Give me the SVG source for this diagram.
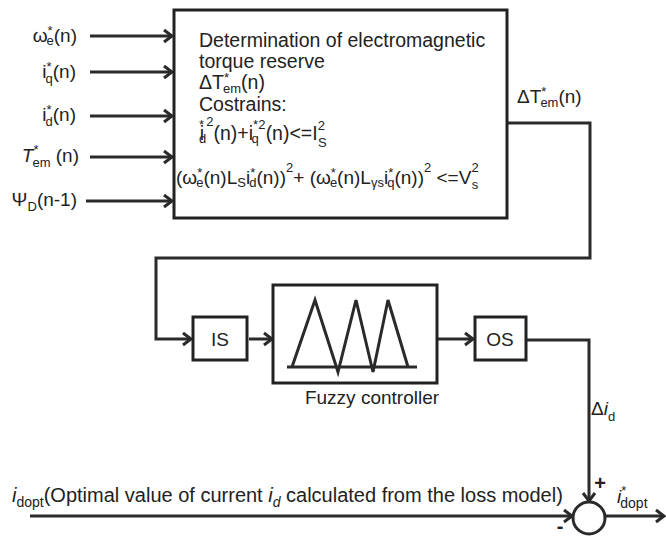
<svg xmlns="http://www.w3.org/2000/svg" width="666" height="536" viewBox="0 0 666 536">
<defs>
<style>
text{font-family:"Liberation Sans",Arial,sans-serif;fill:#222;font-size:19px}
.box{fill:#fff;stroke:#222;stroke-width:3}
.ln{fill:none;stroke:#2a2a2a;stroke-width:3}
.sm{font-size:13px}
.big{font-size:19.5px}
.lbl{font-size:20px}
.sub{font-size:14px}
.sign{font-size:20px;font-weight:bold}
</style>
<marker id="ah" markerUnits="userSpaceOnUse" markerWidth="14" markerHeight="16" viewBox="-10 -8 12 16" refX="0" refY="0" orient="auto">
<path d="M-8,-6 L0,0 L-8,6" fill="none" stroke="#2a2a2a" stroke-width="3"/>
</marker>
</defs>
<rect width="666" height="536" fill="#fff"/>
<g id="connectors">
<path class="ln" d="M90,36 H172" marker-end="url(#ah)"/>
<path class="ln" d="M90,72 H172" marker-end="url(#ah)"/>
<path class="ln" d="M90,116 H172" marker-end="url(#ah)"/>
<path class="ln" d="M90,157 H172" marker-end="url(#ah)"/>
<path class="ln" d="M86,201 H172" marker-end="url(#ah)"/>
<path class="ln" d="M507,123 H590 V258 H156 V339 H191" marker-end="url(#ah)"/>
<path class="ln" d="M249,339 H272" marker-end="url(#ah)"/>
<path class="ln" d="M437,339 H473" marker-end="url(#ah)"/>
<path class="ln" d="M526,340 H589 V501" marker-end="url(#ah)"/>
<path class="ln" d="M30,516 H572" marker-end="url(#ah)"/>
<path class="ln" d="M606,516 H664" marker-end="url(#ah)"/>
</g>
<g id="inputs">
<text x="77" y="42" text-anchor="end">ω<tspan class="sm" dy="-7">*</tspan><tspan class="sm" dx="-6" dy="10">e</tspan><tspan dy="-3">(n)</tspan></text>
<text x="76" y="78" text-anchor="end">i<tspan class="sm" dy="-7">*</tspan><tspan class="sm" dx="-6" dy="12">q</tspan><tspan dy="-5">(n)</tspan></text>
<text x="76" y="121" text-anchor="end">i<tspan class="sm" dy="-7">*</tspan><tspan class="sm" dx="-6" dy="12">d</tspan><tspan dy="-5">(n)</tspan></text>
<text x="79" y="162" text-anchor="end"><tspan font-style="italic">T</tspan><tspan class="sm" dy="-8">*</tspan><tspan class="sm" dx="-6" dy="13">em</tspan><tspan dy="-5"> (n)</tspan></text>
<text x="77" y="206" text-anchor="end">Ψ<tspan class="sm" dy="5">D</tspan><tspan dy="-5">(n-1)</tspan></text>
</g>
<g id="reserve">
<rect class="box" x="174" y="10" width="333" height="208"/>
<text class="big" x="199" y="47">Determination of electromagnetic</text>
<text class="big" x="199" y="68">torque reserve</text>
<text class="big" x="199" y="89">ΔT<tspan class="sm" dy="-7">*</tspan><tspan class="sm" dx="-6" dy="11">em</tspan><tspan dy="-4">(n)</tspan></text>
<text class="big" x="199" y="111">Costrains:</text>
<text class="big" x="199" y="140">i<tspan class="sm" dx="-5" dy="-11">*</tspan><tspan class="sm" dx="-5" dy="14">d</tspan><tspan class="sm" dy="-17">2</tspan><tspan dy="14">(n)+i</tspan><tspan class="sm" dy="-11">*2</tspan><tspan class="sm" dx="-14" dy="14">q</tspan><tspan dx="7" dy="-3">(n)&lt;=I</tspan><tspan class="sm" dy="-10">2</tspan><tspan class="sm" dx="-7" dy="17">S</tspan></text>
<text x="176" y="184">(ω<tspan class="sm" dy="-7">*</tspan><tspan class="sm" dx="-6" dy="10">e</tspan><tspan dy="-3">(n)L</tspan><tspan class="sm" dy="3">S</tspan><tspan dy="-3">i</tspan><tspan class="sm" dy="-7">*</tspan><tspan class="sm" dx="-6" dy="10">d</tspan><tspan dy="-3">(n))</tspan><tspan class="sm" dy="-12">2</tspan><tspan dy="12">+ (ω</tspan><tspan class="sm" dy="-7">*</tspan><tspan class="sm" dx="-6" dy="10">e</tspan><tspan dy="-3">(n)L</tspan><tspan class="sm" dy="3">γs</tspan><tspan dy="-3">i</tspan><tspan class="sm" dy="-7">*</tspan><tspan class="sm" dx="-6" dy="10">q</tspan><tspan dy="-3">(n))</tspan><tspan class="sm" dy="-12">2</tspan><tspan dy="12"> &lt;=V</tspan><tspan class="sm" dy="-12">2</tspan><tspan class="sm" dx="-7" dy="17">s</tspan></text>
</g>
<g id="out-label">
<text x="517" y="103">ΔT<tspan class="sm" dy="-7">*</tspan><tspan class="sm" dx="-6" dy="11">em</tspan><tspan dy="-4">(n)</tspan></text>
</g>
<g id="IS">
<rect class="box" x="193" y="317" width="54" height="43"/>
<text x="220" y="346" text-anchor="middle">IS</text>
</g>
<g id="fuzzy">
<rect class="box" x="273" y="285" width="164" height="98"/>
<path class="ln" d="M287,367 H417 M292,367 L315,300 L338,372 L356,300 L373,372 L388,300 L408,367"/>
<text x="372" y="404" text-anchor="middle">Fuzzy controller</text>
</g>
<g id="OS">
<rect class="box" x="475" y="317" width="51" height="43"/>
<text x="500" y="346" text-anchor="middle">OS</text>
</g>
<g id="delta-id">
<text x="591" y="415">Δ<tspan font-style="italic">i</tspan><tspan class="sm" dy="6">d</tspan></text>
</g>
<g id="sum">
<circle cx="589" cy="518" r="16" fill="#fff" stroke="#2a2a2a" stroke-width="3"/>
<text class="sign" x="600" y="490" text-anchor="middle">+</text>
<text class="sign" x="560" y="533" text-anchor="middle">-</text>
</g>
<g id="idopt-label">
<text class="lbl" x="12" y="502"><tspan font-style="italic">i</tspan><tspan class="sub" dy="5">dopt</tspan><tspan dy="-5">(Optimal value of current </tspan><tspan font-style="italic">i</tspan><tspan class="sub" font-style="italic" dy="5">d</tspan><tspan dy="-5"> calculated from the loss model)</tspan></text>
</g>
<g id="out-idopt">
<text x="617" y="503"><tspan font-style="italic">i</tspan><tspan class="sm" dy="-8">*</tspan><tspan class="sub" dx="-6" dy="13">dopt</tspan></text>
</g>
</svg>
